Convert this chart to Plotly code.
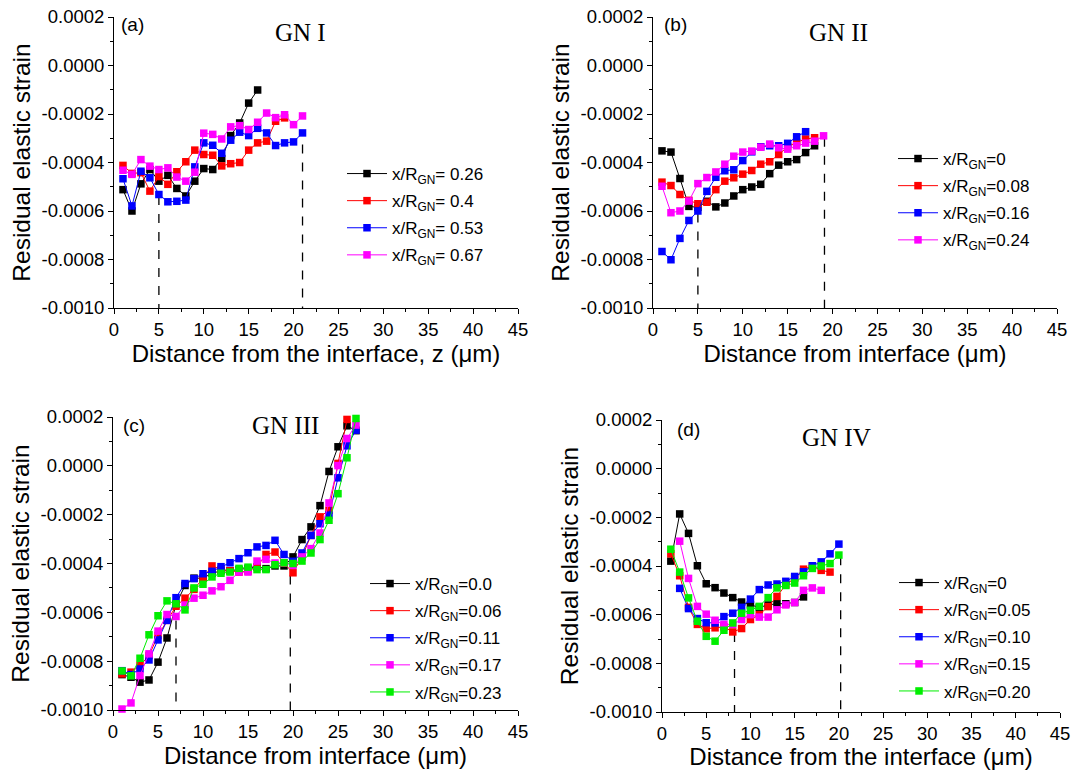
import plotly.graph_objects as go

# ---------------- data ----------------
# Panel (a) GN I
a_x = list(range(1, 22))
a_026 = [-5.12, -6.00, -4.88, -4.29, -4.77, -4.53, -5.07, -5.38, -4.77, -4.25, -4.29, -3.84, -2.89, -2.37, -1.55, -1.01]
a_040 = [-4.12, -4.45, -4.42, -5.18, -4.58, -4.90, -4.38, -3.97, -3.49, -3.67, -3.70, -4.14, -4.05, -4.00, -3.49, -3.19, -3.12, -2.30, -2.16]
a_053 = [-4.67, -5.79, -4.36, -4.63, -5.32, -5.62, -5.60, -5.55, -4.18, -3.19, -3.29, -3.62, -3.08, -2.75, -2.89, -2.59, -2.78, -3.30, -3.19, -3.15, -2.78]
a_067 = [-4.32, -4.49, -3.88, -4.15, -4.29, -4.22, -4.60, -4.77, -4.40, -2.79, -2.84, -3.03, -2.53, -2.48, -2.64, -2.34, -1.96, -2.15, -2.03, -2.44, -2.08]
a_names = ["x/R<sub>GN</sub>= 0.26", "x/R<sub>GN</sub>= 0.4", "x/R<sub>GN</sub>= 0.53", "x/R<sub>GN</sub>= 0.67"]
a_dash_x = [5, 21]
a_dash_top = [-5.38, -3.26]

# Panel (b) GN II
b_x = list(range(1, 20))
b_000 = [-3.52, -3.57, -4.66, -5.81, -5.85, -5.60, -5.83, -5.67, -5.38, -5.12, -5.01, -4.90, -4.46, -4.11, -3.97, -3.88, -3.59, -3.31]
b_008 = [-4.81, -4.95, -5.32, -5.56, -5.70, -5.64, -5.12, -4.77, -4.63, -4.48, -4.33, -4.07, -3.97, -3.67, -3.35, -3.17, -3.03, -2.98]
b_016 = [-7.67, -8.01, -7.13, -6.39, -6.00, -5.19, -4.61, -4.34, -4.30, -3.92, -3.56, -3.35, -3.31, -3.31, -3.21, -2.94, -2.73]
b_024 = [-4.98, -6.07, -6.00, -5.59, -4.87, -4.62, -4.39, -4.07, -3.74, -3.57, -3.53, -3.37, -3.24, -3.39, -3.45, -3.31, -3.20, -3.12, -2.90]
b_names = ["x/R<sub>GN</sub>=0", "x/R<sub>GN</sub>=0.08", "x/R<sub>GN</sub>=0.16", "x/R<sub>GN</sub>=0.24"]
b_dash_x = [5, 19.1]
b_dash_top = [-6.10, -2.98]

# Panel (c) GN III
c_x = list(range(1, 28))
c_000 = [-8.55, -8.66, -8.86, -8.77, -8.04, -7.05, -5.68, -4.90, -4.60, -4.60, -4.40, -4.30, -4.30, -4.25, -4.20, -4.14, -4.21, -4.10, -4.10, -3.73, -3.02, -2.50, -1.63, -0.23, 0.78, 1.64, 1.44]
c_006 = [-8.52, -8.45, -8.18, -7.77, -6.95, -6.33, -5.75, -5.42, -5.06, -4.60, -4.10, -4.24, -4.30, -4.35, -4.31, -4.14, -3.63, -3.53, -3.99, -4.38, -3.73, -2.85, -2.09, -1.82, 0.10, 1.90]
c_011 = [-8.39, -8.55, -8.32, -7.95, -7.13, -6.33, -5.40, -4.82, -4.62, -4.42, -4.32, -4.13, -3.97, -3.80, -3.56, -3.32, -3.26, -3.05, -3.63, -3.91, -3.57, -2.85, -2.37, -2.02, -0.49, 0.82, 1.46]
c_017 = [-9.96, -9.71, -8.59, -7.70, -6.77, -6.09, -6.17, -5.70, -5.42, -5.30, -5.12, -4.95, -4.69, -4.35, -4.35, -3.90, -3.83, -3.98, -3.97, -4.08, -3.73, -3.39, -2.75, -1.52, 0.01, 1.12, 1.67]
c_023 = [-8.40, -8.60, -7.88, -6.92, -6.14, -5.53, -5.65, -5.90, -5.00, -4.85, -4.55, -4.40, -4.35, -4.20, -4.15, -4.25, -4.25, -4.05, -3.97, -4.00, -3.90, -3.57, -3.02, -2.23, -1.14, 0.33, 1.94]
c_names = ["x/R<sub>GN</sub>=0.0", "x/R<sub>GN</sub>=0.06", "x/R<sub>GN</sub>=0.11", "x/R<sub>GN</sub>=0.17", "x/R<sub>GN</sub>=0.23"]
c_dash_x = [7, 19.7]
c_dash_top = [-6.33, -4.49]

# Panel (d) GN IV
d_x = list(range(1, 21))
d_000 = [-3.80, -1.86, -2.66, -3.99, -4.73, -4.89, -5.11, -5.30, -5.48, -5.60, -5.70, -5.60, -5.55, -5.55, -5.50, -5.27]
d_005 = [-3.50, -4.40, -5.70, -6.40, -6.58, -6.54, -6.50, -6.71, -6.57, -6.20, -6.00, -5.67, -5.25, -4.77, -4.50, -4.13, -4.00, -4.18, -4.25]
d_010_x = list(range(2, 21))
d_010 = [-4.92, -5.75, -6.16, -6.33, -6.34, -6.08, -5.94, -5.70, -5.36, -4.97, -4.78, -4.74, -4.63, -4.43, -4.24, -3.99, -3.83, -3.50, -3.10]
d_015_x = list(range(2, 19))
d_015 = [-2.98, -4.51, -5.66, -5.98, -6.23, -6.40, -6.40, -6.20, -6.00, -6.10, -6.10, -5.80, -5.60, -5.50, -5.00, -4.90, -5.00]
d_020 = [-3.31, -4.25, -5.31, -6.27, -6.89, -7.09, -6.64, -6.34, -5.94, -5.82, -5.66, -5.30, -4.90, -4.80, -4.70, -4.40, -4.10, -4.00, -3.90, -3.55]
d_names = ["x/R<sub>GN</sub>=0", "x/R<sub>GN</sub>=0.05", "x/R<sub>GN</sub>=0.10", "x/R<sub>GN</sub>=0.15", "x/R<sub>GN</sub>=0.20"]
d_dash_x = [8.2, 20.2]
d_dash_top = [-6.75, -3.60]

SCALE = 1e-4  # values above are in units of 1e-4

y_tickvals = [0.0002, 0.0, -0.0002, -0.0004, -0.0006, -0.0008, -0.0010]
y_ticktext = ["0.0002", "0.0000", "-0.0002", "-0.0004", "-0.0006", "-0.0008", "-0.0010"]
x_tickvals = [0, 5, 10, 15, 20, 25, 30, 35, 40, 45]

panel_titles = ["GN I", "GN II", "GN III", "GN IV"]
panel_letters = ["(a)", "(b)", "(c)", "(d)"]
x_titles = ["Distance from the interface, z (\u03bcm)", "Distance from interface (\u03bcm)",
            "Distance from interface (\u03bcm)", "Distance from the interface (\u03bcm)"]
y_title = "Residual elastic strain"

colors4 = ["#000000", "#ff0000", "#0000ff", "#ff00ff"]
colors5 = ["#000000", "#ff0000", "#0000ff", "#ff00ff", "#00ee00"]

# ---------------- layout geometry ----------------
W, H = 1075, 770
def px_x(p):
    return p / W
def px_y(p):
    return 1 - p / H

domains = {
    1: dict(x=[px_x(114), px_x(518)], y=[px_y(308), px_y(17)]),
    2: dict(x=[px_x(653), px_x(1057)], y=[px_y(308), px_y(17)]),
    3: dict(x=[px_x(113), px_x(518)], y=[px_y(710), px_y(417)]),
    4: dict(x=[px_x(662), px_x(1060)], y=[px_y(712), px_y(420)]),
}

FONT = "Arial, Liberation Sans, sans-serif"
SERIF = "Times New Roman, Liberation Serif, serif"

fig = go.Figure()

panels = [
    (1, [(a_x, a_026), (a_x, a_040), (a_x, a_053), (a_x, a_067)], a_names, colors4, a_dash_x, a_dash_top),
    (2, [(b_x, b_000), (b_x, b_008), (b_x, b_016), (b_x, b_024)], b_names, colors4, b_dash_x, b_dash_top),
    (3, [(c_x, c_000), (c_x, c_006), (c_x, c_011), (c_x, c_017), (c_x, c_023)], c_names, colors5, c_dash_x, c_dash_top),
    (4, [(d_x, d_000), (d_x, d_005), (d_010_x, d_010), (d_015_x, d_015), (d_x, d_020)], d_names, colors5, d_dash_x, d_dash_top),
]

legend_pos = {1: (px_x(342), px_y(156)), 2: (px_x(893), px_y(141)),
              3: (px_x(365), px_y(566)), 4: (px_x(894), px_y(565))}

for idx, series, names, cols, dx, dtop in panels:
    xa = "x" if idx == 1 else f"x{idx}"
    ya = "y" if idx == 1 else f"y{idx}"
    leg = "legend" if idx == 1 else f"legend{idx}"
    # dashed guide lines
    for xv, tv in zip(dx, dtop):
        fig.add_trace(go.Scatter(x=[xv, xv], y=[tv * SCALE, -0.0010], mode="lines",
                                 line=dict(color="black", width=1.3, dash="dash"),
                                 xaxis=xa, yaxis=ya, showlegend=False, hoverinfo="skip"))
    for k, ((xs, ys), nm, col) in enumerate(zip(series, names, cols)):
        fig.add_trace(go.Scatter(
            x=xs[:len(ys)], y=[v * SCALE for v in ys], mode="lines+markers", name=nm,
            line=dict(color=col, width=1),
            marker=dict(symbol="square", size=7.5, color=col),
            legendgroup=f"p{idx}s{k}",
            xaxis=xa, yaxis=ya, legend=leg, cliponaxis=False))

axis_common = dict(showline=True, linecolor="black", linewidth=1, ticks="outside",
                   ticklen=5, tickwidth=1, tickcolor="black", showgrid=False, zeroline=False,
                   mirror=False, automargin=False,
                   tickfont=dict(family=FONT, size=18.5, color="black"))

layout = dict(width=W, height=H, margin=dict(l=0, r=0, t=0, b=0),
              paper_bgcolor="white", plot_bgcolor="white", showlegend=True)

for idx in range(1, 5):
    xk = "xaxis" if idx == 1 else f"xaxis{idx}"
    yk = "yaxis" if idx == 1 else f"yaxis{idx}"
    xa_ref = "x" if idx == 1 else f"x{idx}"
    ya_ref = "y" if idx == 1 else f"y{idx}"
    layout[xk] = dict(axis_common, domain=domains[idx]["x"], anchor=ya_ref, range=[0, 45],
                      tickvals=x_tickvals,
                      minor=dict(ticks="outside", ticklen=3, dtick=2.5, tick0=0, tickcolor="black"),
                      title=dict(text=x_titles[idx - 1], font=dict(family=FONT, size=24, color="black"),
                                 standoff=2))
    layout[yk] = dict(axis_common, domain=domains[idx]["y"], anchor=xa_ref, range=[-0.0010, 0.0002],
                      tickvals=y_tickvals, ticktext=y_ticktext,
                      minor=dict(ticks="outside", ticklen=3, dtick=0.0001, tick0=0, tickcolor="black"),
                      title=dict(text=y_title, font=dict(family=FONT, size=24.5, color="black"),
                                 standoff=3))
    lk = "legend" if idx == 1 else f"legend{idx}"
    lx, ly = legend_pos[idx]
    layout[lk] = dict(x=lx, y=ly, xanchor="left", yanchor="top", bgcolor="rgba(0,0,0,0)",
                      font=dict(family=FONT, size=17, color="black"),
                      tracegroupgap=2, itemwidth=40)

fig.update_layout(**layout)

# panel labels and titles
title_pos = {1: (px_x(300), px_y(32)), 2: (px_x(838), px_y(32)), 3: (px_x(285), px_y(425)), 4: (px_x(836), px_y(437))}
letter_pos = {1: (px_x(119), px_y(25)), 2: (px_x(662), px_y(25)), 3: (px_x(121), px_y(425)), 4: (px_x(675), px_y(429))}
for idx in range(1, 5):
    tx, ty = title_pos[idx]
    fig.add_annotation(x=tx, y=ty, xref="paper", yref="paper", text=panel_titles[idx - 1],
                       showarrow=False, font=dict(family=SERIF, size=25, color="black"),
                       xanchor="center", yanchor="middle")
    lx, ly = letter_pos[idx]
    fig.add_annotation(x=lx, y=ly, xref="paper", yref="paper", text=panel_letters[idx - 1],
                       showarrow=False, font=dict(family=FONT, size=19, color="black"),
                       xanchor="left", yanchor="middle")

fig.write_html("out.html", config={"displayModeBar": False},
               post_script="document.body.style.margin='0';")
